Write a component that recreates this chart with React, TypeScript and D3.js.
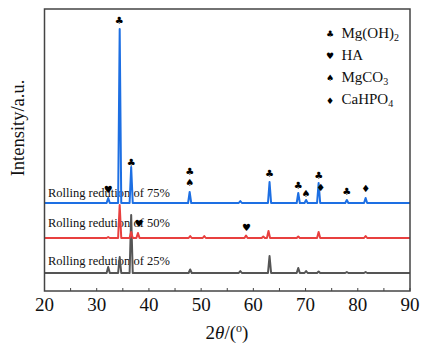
import React from "react";
import * as d3 from "d3";

// ---- data ----
const xTicks = [20, 30, 40, 50, 60, 70, 80, 90];
const xMinorTicks = [25, 35, 45, 55, 65, 75, 85];

const seriesNames = ["Rolling redution of 25%", "Rolling redution of 50%", "Rolling redution of 75%"];
const seriesColors = ["#555555", "#e8403f", "#1d6fe3"];
const seriesBaselines = [18, 53, 88];

// peaks: [2theta, height above baseline]
const peaks25: [number, number][] = [
  [32.2, 6], [34.4, 16], [36.6, 58], [47.9, 3.5], [57.5, 2], [63.1, 17], [68.6, 5], [70.1, 2], [72.5, 1.5], [77.9, 1], [81.5, 1],
];
const peaks50: [number, number][] = [
  [32.2, 1], [34.4, 33], [36.6, 6], [37.9, 5], [47.9, 2], [50.6, 2], [58.6, 2.5], [61.9, 1.5], [62.9, 7], [68.6, 1.5], [72.5, 6], [81.5, 2],
];
const peaks75: [number, number][] = [
  [32.2, 5], [34.4, 174], [36.6, 36], [47.8, 11], [57.5, 2], [63.1, 21], [68.6, 10], [70.1, 3], [72.5, 20], [77.9, 3], [81.5, 5],
];
const seriesPeaks = [peaks25, peaks50, peaks75];

const markerSymbols = ["♣", "♣", "♥", "♣", "♠", "♣", "♣", "♠", "♣", "♦", "♣", "♦", "♥", "♥"];
const markerX = [34.3, 36.6, 32.2, 47.8, 47.8, 63.1, 68.6, 70.1, 72.5, 72.9, 77.9, 81.5, 38.1, 58.7];
const markerY = [271, 129, 102, 120, 109, 118, 106, 98, 116, 104, 100, 103, 68, 64];

const legendSymbols = ["♣", "♥", "♠", "♦"];
const legendMain = ["Mg(OH)", "HA", "MgCO", "CaHPO"];
const legendSub = ["2", "", "3", "4"];

const labelY = [26.5, 63.7, 94.5];

const W = 421, H = 347;
const L = 44.5, R = 410, T = 9, B = 291;

function buildPoints(peaks: [number, number][], base: number): [number, number][] {
  const pts: [number, number][] = [[20, base]];
  const hw = 0.3;
  peaks.forEach(([p, h]) => {
    pts.push([p - hw, base]);
    pts.push([p, base + h]);
    pts.push([p + hw, base]);
  });
  pts.push([90, base]);
  return pts;
}

export default function App() {
  const x = d3.scaleLinear().domain([20, 90]).range([L, R]);
  const y = d3.scaleLinear().domain([0, B - T]).range([B, T]);
  const line = d3.line<[number, number]>().x(d => x(d[0])).y(d => y(d[1]));
  const serif = "'Liberation Serif', 'Times New Roman', serif";
  const sym = "'DejaVu Sans', sans-serif";

  return (
    <svg width={W} height={H} style={{ position: "absolute", left: 0, top: 0 }}>
      <rect x={0} y={0} width={W} height={H} fill="#fff" />
      {/* labels */}
      {seriesNames.map((n, i) => (
        <text key={n} x={x(20.67)} y={y(labelY[i])} fontFamily={serif} fontSize={12.5} fill="#111">{n}</text>
      ))}
      {/* traces */}
      {seriesPeaks.map((pk, i) => (
        <path key={i} d={line(buildPoints(pk, seriesBaselines[i])) || ""} fill="none" stroke={seriesColors[i]} strokeWidth={2} strokeLinejoin="round" />
      ))}
      {/* markers */}
      {markerSymbols.map((s, i) => (
        <text key={i} x={x(markerX[i])} y={y(markerY[i])} dy="0.35em" textAnchor="middle" fontFamily={sym} fontSize={10} fill="#000">{s}</text>
      ))}
      {/* frame */}
      <rect x={L} y={T} width={R - L} height={B - T} fill="none" stroke="#444" strokeWidth={1.5} />
      {/* ticks */}
      {[...xTicks, ...xMinorTicks].map(t => (
        <line key={t} x1={x(t)} x2={x(t)} y1={B} y2={B - 3} stroke="#444" strokeWidth={1} />
      ))}
      {xTicks.map(t => (
        <text key={t} x={x(t)} y={311} textAnchor="middle" fontFamily={serif} fontSize={19} fill="#111">{t}</text>
      ))}
      {/* axis titles */}
      <text x={227} y={339} textAnchor="middle" fontFamily={serif} fontSize={19} fill="#111">
        2<tspan fontStyle="italic">θ</tspan>/(<tspan dy={-7} fontSize={12}>o</tspan><tspan dy={7}>)</tspan>
      </text>
      <text transform="translate(24,128) rotate(-90)" textAnchor="middle" fontFamily={serif} fontSize={18.5} fill="#111">Intensity/a.u.</text>
      {/* legend */}
      {legendMain.map((m, i) => (
        <g key={m}>
          <text x={330} y={33.5 + i * 22.3} dy="0.35em" textAnchor="middle" fontFamily={sym} fontSize={9} fill="#000">{legendSymbols[i]}</text>
          <text x={341.5} y={37.5 + i * 22.3} fontFamily={serif} fontSize={15} fill="#111">
            {m}{legendSub[i] && <tspan dy={3} fontSize={10}>{legendSub[i]}</tspan>}
          </text>
        </g>
      ))}
    </svg>
  );
}
